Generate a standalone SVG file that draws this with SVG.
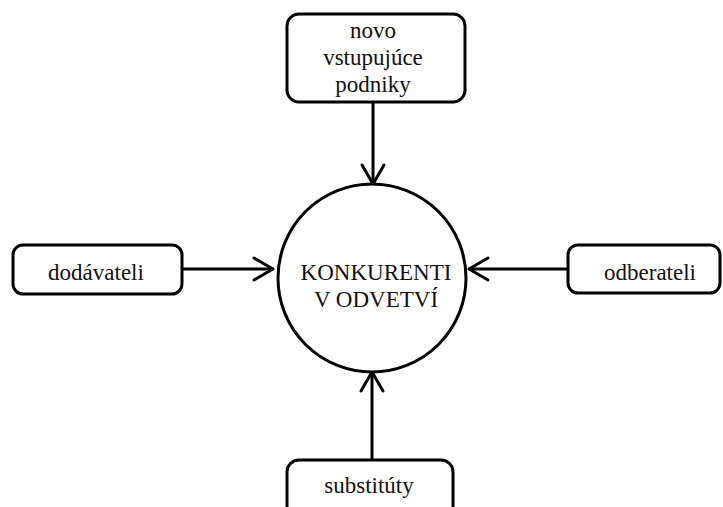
<svg xmlns="http://www.w3.org/2000/svg" width="723" height="507" viewBox="0 0 723 507">
<style>
.box{fill:#fff;stroke:#000;stroke-width:3}
.lbl{font-family:'Liberation Serif','Times New Roman','DejaVu Serif',serif;font-size:23px;fill:#111;text-anchor:middle}
.con{stroke:#000;stroke-width:3;fill:none;marker-end:url(#ah)}
</style>
<defs>
<marker id="ah" markerUnits="userSpaceOnUse" markerWidth="30" markerHeight="30" viewBox="-24 -15 30 30" refX="0" refY="0" orient="auto">
<path d="M-19,-11 L0,0 L-19,11" fill="none" stroke="#000" stroke-width="3" stroke-linecap="round" stroke-linejoin="round"/>
</marker>
</defs>
<g id="connectors">
<line class="con" x1="373" y1="102" x2="373" y2="184"/>
<line class="con" x1="182" y1="269" x2="273" y2="269"/>
<line class="con" x1="568" y1="269" x2="469" y2="269"/>
<line class="con" x1="372" y1="460" x2="372" y2="372"/>
</g>
<g id="center">
<circle cx="372" cy="278" r="94" fill="#fff" stroke="#000" stroke-width="3"/>
<text class="lbl" x="376" y="280">KONKURENTI</text>
<text class="lbl" x="376" y="307">V ODVETVÍ</text>
</g>
<g id="novo">
<rect class="box" x="287" y="14" width="178" height="88" rx="12"/>
<text class="lbl" x="373" y="38">novo</text>
<text class="lbl" x="373" y="65">vstupujúce</text>
<text class="lbl" x="373" y="92">podniky</text>
</g>
<g id="dodavateli">
<rect class="box" x="13" y="245" width="169" height="49" rx="10"/>
<text class="lbl" x="96" y="280">dodávateli</text>
</g>
<g id="odberateli">
<rect class="box" x="568" y="245" width="152" height="48" rx="10"/>
<text class="lbl" x="650" y="280">odberateli</text>
</g>
<g id="substituty">
<rect class="box" x="287" y="460" width="166" height="60" rx="12"/>
<text class="lbl" x="369" y="493">substitúty</text>
</g>
</svg>
